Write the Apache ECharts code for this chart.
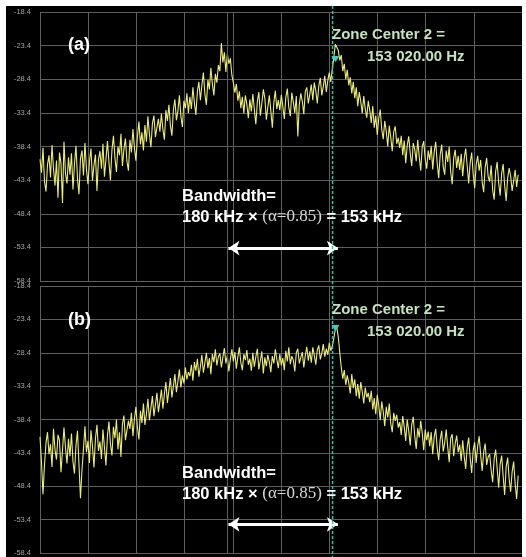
<!DOCTYPE html>
<html><head><meta charset="utf-8">
<script src="https://cdn.jsdelivr.net/npm/echarts/dist/echarts.min.js"></script>
<style>
html,body{margin:0;padding:0;background:#fff;width:526px;height:557px;overflow:hidden;}
#c{position:absolute;left:6px;top:6px;width:516px;height:551px;background:#000;}
</style>
</head><body><div id="c"></div>
<script>
// y tick labels (dBm), bottom to top
const Y_TICKS = ['-58.4','-53.4','-48.4','-43.4','-38.4','-33.4','-28.4','-23.4','-18.4'];
const Y_BOTTOM = -58.4;
// horizontal span of the trace, in screen divisions (0..10)
const X_SPAN = 9.92;

// panel (a) spectrum trace, dB
const TRACE_A = [
-40.3,-42.3,-38.6,-43.6,-45.1,-41.1,-39.7,-43.0,-38.2,-41.7,-44.2,-40.5,-46.0,-39.3,-40.9,-46.8,-37.7,-42.4,-43.9,-40.0,
-42.6,-39.4,-44.8,-41.0,-38.3,-43.1,-45.5,-40.2,-39.0,-42.7,-37.9,-41.8,-44.0,-40.6,-38.7,-43.5,-41.2,-39.6,-45.0,-40.4,
-39.1,-41.7,-38.0,-42.9,-40.3,-37.6,-40.8,-43.4,-38.9,-36.8,-40.1,-42.2,-38.4,-39.7,-36.5,-41.3,-38.8,-37.2,-40.6,-42.0,
-37.4,-39.3,-35.8,-38.6,-40.5,-36.9,-34.7,-38.1,-36.3,-39.0,-35.2,-37.7,-33.9,-36.6,-38.5,-35.0,-33.8,-37.0,-35.6,-34.3,
-36.2,-33.5,-35.9,-37.4,-33.0,-34.6,-32.2,-35.3,-36.8,-32.9,-31.4,-34.5,-33.1,-30.8,-33.9,-35.5,-31.6,-32.7,-30.5,-33.4,
-31.0,-32.8,-29.6,-31.9,-33.7,-30.2,-28.8,-31.5,-29.3,-27.4,-30.6,-32.2,-28.5,-29.9,-26.7,-29.1,-30.8,-27.6,-28.9,-26.3,
-27.2,-23.0,-25.9,-24.4,-27.3,-24.6,-26.1,-25.3,-27.8,-28.9,-30.4,-29.1,-31.6,-30.2,-32.7,-31.0,-33.5,-30.8,-32.1,-34.2,
-31.4,-33.2,-30.6,-32.9,-35.1,-31.7,-30.3,-33.8,-32.0,-29.9,-31.2,-34.4,-32.5,-30.8,-33.1,-35.6,-31.9,-30.1,-32.8,-31.5,
-33.0,-30.7,-32.4,-34.3,-31.1,-29.8,-32.6,-33.9,-30.4,-31.8,-33.4,-30.9,-36.9,-32.2,-30.5,-31.7,-33.6,-30.2,-29.6,-32.0,
-30.6,-29.2,-31.5,-28.9,-30.1,-32.0,-29.4,-28.2,-30.8,-29.5,-27.9,-30.3,-28.6,-27.4,-28.8,-26.9,-25.3,-23.2,-23.0,-24.1,
-25.6,-24.8,-27.2,-26.1,-28.4,-27.0,-29.3,-28.1,-30.5,-28.8,-31.2,-29.6,-32.4,-30.3,-31.7,-33.5,-30.9,-32.8,-34.1,-31.6,
-33.0,-34.9,-32.4,-35.6,-33.8,-36.7,-34.2,-32.9,-35.9,-37.3,-34.6,-36.1,-38.4,-35.3,-37.0,-39.1,-36.2,-35.4,-38.0,-37.1,
-38.6,-36.8,-39.7,-37.5,-40.9,-38.2,-36.9,-39.4,-41.3,-37.9,-38.8,-40.6,-37.4,-39.9,-42.0,-38.5,-37.6,-40.3,-41.7,-39.0,
-40.4,-38.3,-41.8,-39.2,-37.7,-40.9,-43.1,-39.6,-38.1,-41.4,-42.6,-39.0,-40.7,-38.4,-42.2,-44.0,-40.1,-38.9,-41.6,-39.8,
-41.9,-39.5,-42.8,-40.2,-38.7,-41.3,-43.9,-40.8,-39.3,-42.5,-44.6,-41.1,-39.8,-42.0,-40.4,-43.7,-45.2,-41.5,-40.1,-42.9,
-43.6,-41.2,-44.9,-46.3,-42.1,-40.7,-43.8,-45.7,-42.4,-41.0,-44.2,-46.5,-43.1,-41.6,-42.8,-45.0,-43.5,-41.9,-44.4,-42.6
];

// panel (b) spectrum trace, dB
const TRACE_B = [
-41.0,-44.8,-49.6,-45.2,-41.9,-40.3,-43.6,-42.1,-45.5,-39.8,-42.9,-44.4,-40.7,-41.5,-46.3,-43.0,-39.6,-42.6,-45.0,-41.3,
-43.9,-40.5,-44.7,-46.5,-42.3,-40.1,-45.1,-50.2,-46.0,-42.8,-39.4,-43.3,-41.6,-44.9,-40.0,-42.4,-45.6,-41.2,-39.2,-43.1,
-41.7,-44.3,-39.9,-42.6,-45.3,-40.8,-38.7,-42.1,-43.8,-39.5,-41.2,-38.4,-42.9,-40.3,-44.0,-39.1,-37.8,-41.5,-40.0,-38.6,
-39.8,-37.4,-40.9,-38.3,-36.5,-39.6,-41.4,-37.1,-38.9,-36.0,-39.2,-37.6,-35.3,-38.5,-36.7,-34.9,-37.9,-36.2,-34.4,-37.3,
-35.7,-33.9,-36.8,-34.5,-32.8,-35.9,-34.0,-32.2,-35.1,-33.4,-31.6,-34.3,-32.7,-30.9,-33.6,-31.8,-33.0,-30.6,-32.4,-31.3,
-31.9,-30.2,-32.6,-29.8,-31.1,-29.3,-32.0,-30.5,-28.7,-31.4,-29.9,-28.4,-30.7,-29.2,-31.6,-28.6,-29.8,-27.9,-30.3,-29.0,
-28.5,-30.6,-29.1,-27.7,-30.0,-28.8,-31.2,-29.4,-27.9,-29.7,-28.3,-30.8,-29.0,-27.6,-29.9,-31.0,-28.6,-29.5,-28.0,-30.2,
-29.3,-31.1,-28.4,-30.5,-29.0,-27.8,-30.9,-29.6,-28.2,-31.5,-29.1,-30.4,-28.7,-29.8,-31.3,-28.9,-30.0,-27.9,-29.4,-30.7,
-28.6,-30.3,-29.2,-31.0,-28.1,-29.7,-27.6,-30.1,-28.9,-29.5,-31.2,-28.4,-27.8,-30.0,-29.1,-28.3,-30.6,-28.8,-27.5,-29.6,
-28.2,-29.9,-27.6,-28.8,-30.2,-28.0,-27.3,-29.4,-28.5,-27.1,-29.0,-27.8,-28.7,-26.9,-28.1,-27.4,-26.3,-24.9,-24.6,-26.0,
-28.4,-30.6,-32.3,-31.0,-33.2,-31.8,-32.9,-34.5,-31.6,-33.7,-32.4,-34.9,-33.1,-35.3,-32.8,-34.2,-36.0,-33.6,-35.1,-34.4,
-35.8,-34.1,-36.9,-35.2,-37.6,-34.7,-36.3,-38.5,-35.7,-37.2,-39.4,-36.5,-38.1,-36.0,-39.0,-40.3,-37.4,-38.6,-37.7,-39.6,
-38.8,-40.7,-37.9,-39.5,-41.6,-38.4,-40.1,-42.3,-39.2,-38.0,-40.9,-42.8,-39.7,-41.1,-38.6,-40.4,-43.0,-39.9,-41.5,-40.2,
-42.4,-40.3,-43.6,-41.0,-39.8,-42.7,-44.5,-41.4,-40.1,-43.2,-41.9,-39.9,-42.5,-44.8,-41.2,-40.6,-43.9,-42.0,-40.8,-43.3,
-42.2,-44.6,-41.5,-43.9,-45.8,-42.6,-41.1,-44.2,-46.4,-43.0,-41.8,-44.9,-42.4,-40.9,-43.7,-46.1,-43.3,-42.0,-45.2,-44.0,
-43.6,-46.0,-47.8,-44.3,-42.9,-45.7,-48.6,-45.1,-43.8,-46.9,-49.7,-45.5,-44.1,-47.3,-49.2,-46.2,-44.7,-48.0,-50.3,-46.8
];

const ZONE_CENTER_DIV = 6.07;
const MARKER_DIV = 3.89;
const PEAK_MARK_A = [6.13, -25.4];
const PEAK_MARK_B = [6.13, -24.7];
const ARROW_X = [3.91, 6.18];
const ARROW_DB = [-53.5, -54.1];
const PANEL_LABELS = ['(a)', '(b)'];
const ZONE_TEXT = ['Zone Center 2 =', '153 020.00 Hz'];

const GRID_COLOR = '#5e5e5e';
const TRACE_COLOR = '#ecec78';

const chart = echarts.init(document.getElementById('c'), null, {renderer: 'canvas'});

function toPts(arr) {
  return arr.map((d, i) => [i * X_SPAN / (arr.length - 1), d - Y_BOTTOM]);
}

function xAx(k) {
  return {type: 'value', gridIndex: k, min: 0, max: 10, interval: 1,
    axisLabel: {show: false}, axisTick: {show: false}, axisLine: {show: false},
    splitLine: {show: true, lineStyle: {color: GRID_COLOR, width: 1}}};
}
function yAx(k) {
  return {type: 'value', gridIndex: k, min: 0, max: 40, interval: 5,
    axisLabel: {fontSize: 7.5, color: '#a2a2a2', margin: 9, fontFamily: 'Liberation Sans',
      formatter: v => Y_TICKS[Math.round(v / 5)]},
    axisTick: {show: false}, axisLine: {show: false},
    splitLine: {show: true, lineStyle: {color: GRID_COLOR, width: 1}}};
}

function series(k, trace, peak) {
  const ay = ARROW_DB[k] - Y_BOTTOM;
  return {
    type: 'line', xAxisIndex: k, yAxisIndex: k, data: toPts(trace),
    showSymbol: false, symbol: 'none', animation: false,
    lineStyle: {color: TRACE_COLOR, width: 1.1},
    markLine: {
      silent: true, animation: false, label: {show: false},
      data: [
        [{coord: [MARKER_DIV, 0], symbol: 'none', lineStyle: {color: GRID_COLOR, width: 1, type: 'solid'}},
         {coord: [MARKER_DIV, 40], symbol: 'none'}],
        [{coord: [ARROW_X[0], ay], symbol: 'arrow', symbolSize: [11, 11], lineStyle: {color: '#ffffff', width: 3, type: 'solid'}},
         {coord: [ARROW_X[1], ay], symbol: 'arrow', symbolSize: [11, 11]}]
      ]
    },
    markPoint: {
      silent: true, animation: false, label: {show: false},
      data: [{coord: [peak[0], peak[1] - Y_BOTTOM], symbol: 'triangle', symbolRotate: 180,
              symbolSize: [8, 6], itemStyle: {color: '#38d0c8'}}]
    }
  };
}

chart.setOption({
  animation: false,
  backgroundColor: '#000',
  grid: [
    {left: 34, top: 6, width: 486, height: 269},
    {left: 34, top: 280, width: 486, height: 270}
  ],
  xAxis: [xAx(0), xAx(1)],
  yAxis: [yAx(0), yAx(1)],
  series: [series(0, TRACE_A, PEAK_MARK_A), series(1, TRACE_B, PEAK_MARK_B)]
});

const zx = chart.convertToPixel({xAxisIndex: 0}, ZONE_CENTER_DIV);
const boldFont = 'bold 16.5px "Liberation Sans", Arial, sans-serif';
function bwText(y) {
  return [
    {type: 'text', z: 100, style: {text: 'Bandwidth=', x: 176, y: y, fill: '#fff', font: boldFont, verticalAlign: 'middle'}},
    {type: 'text', z: 100, style: {
      text: '{a|180 kHz × }{b|(α=0.85)}{a| = 153 kHz}', x: 176, y: y + 21, verticalAlign: 'middle',
      rich: {
        a: {fill: '#fff', font: boldFont},
        b: {fill: '#d8d8d8', font: '17px "Liberation Serif", "Times New Roman", serif'}
      }}}
  ];
}
function zoneText(y) {
  const f = 'bold 15px "Liberation Sans", Arial, sans-serif';
  return [
    {type: 'text', z: 100, style: {text: ZONE_TEXT[0], x: 326, y: y, fill: '#c4e2bc', font: f, verticalAlign: 'middle'}},
    {type: 'text', z: 100, style: {text: ZONE_TEXT[1], x: 361, y: y + 22, fill: '#c4e2bc', font: f, verticalAlign: 'middle'}}
  ];
}
const labelFont = 'bold 18px "Liberation Sans", Arial, sans-serif';
chart.setOption({
  graphic: [
    {type: 'line', z: 90, shape: {x1: zx, y1: 0, x2: zx, y2: 551},
     style: {stroke: '#2ec2bb', lineWidth: 1.5, lineDash: [3, 2]}},
    {type: 'text', z: 100, style: {text: PANEL_LABELS[0], x: 62, y: 39, fill: '#fff', font: labelFont, verticalAlign: 'middle'}},
    {type: 'text', z: 100, style: {text: PANEL_LABELS[1], x: 62, y: 314, fill: '#fff', font: labelFont, verticalAlign: 'middle'}},
    ...zoneText(29), ...zoneText(304),
    ...bwText(190), ...bwText(467)
  ]
});
</script></body></html>
